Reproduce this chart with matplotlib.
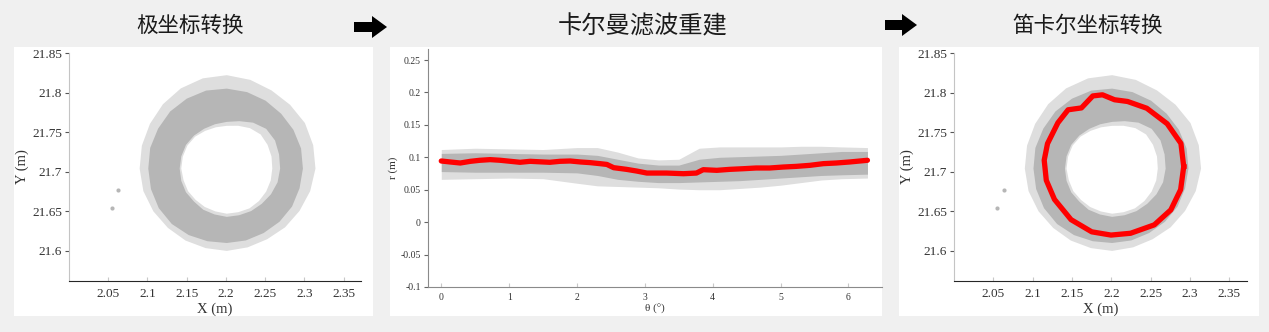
import matplotlib
matplotlib.use("Agg")
import matplotlib.pyplot as plt
import numpy as np
from matplotlib.patches import Rectangle, Polygon
from matplotlib.ticker import FuncFormatter

W, H = 1269, 332

# ---- middle panel: polar data (theta in rad, r in m) ----
theta_red = [0.0, 0.13, 0.28, 0.43, 0.57, 0.72, 0.87, 1.02, 1.16, 1.31, 1.46,
             1.60, 1.75, 1.90, 2.05, 2.19, 2.34, 2.44, 2.54, 2.73, 2.88, 3.03,
             3.17, 3.32, 3.57, 3.76, 3.86, 4.06, 4.25, 4.45, 4.64, 4.84, 5.04,
             5.23, 5.43, 5.63, 5.82, 6.02, 6.28]
r_red = [0.0943, 0.0928, 0.0912, 0.0938, 0.0954, 0.0964, 0.0954, 0.0938,
         0.0923, 0.0938, 0.0930, 0.0923, 0.0938, 0.0943, 0.0928, 0.0918,
         0.0902, 0.0890, 0.0840, 0.0814, 0.0788, 0.0757, 0.0757, 0.0757,
         0.0747, 0.0757, 0.0809, 0.0799, 0.0814, 0.0824, 0.0835, 0.0835,
         0.0850, 0.0860, 0.0876, 0.0902, 0.0912, 0.0928, 0.0954]

theta_band = [0.0, 0.5, 1.0, 1.5, 2.0, 2.3, 2.6, 2.9, 3.2, 3.5, 3.8, 4.1,
              4.4, 4.7, 5.0, 5.3, 5.6, 5.9, 6.28]
band_dense_lo = [0.078, 0.077, 0.077, 0.077, 0.076, 0.072, 0.066, 0.063,
                 0.061, 0.061, 0.062, 0.063, 0.064, 0.066, 0.068, 0.070,
                 0.072, 0.073, 0.074]
band_dense_hi = [0.106, 0.107, 0.106, 0.105, 0.105, 0.103, 0.097, 0.091,
                 0.088, 0.088, 0.097, 0.100, 0.101, 0.102, 0.103, 0.105,
                 0.107, 0.109, 0.109]
band_sparse_lo = [0.066, 0.067, 0.068, 0.067, 0.060, 0.056, 0.055, 0.054,
                  0.053, 0.051, 0.050, 0.050, 0.052, 0.054, 0.057, 0.061,
                  0.065, 0.067, 0.068]
band_sparse_hi = [0.112, 0.114, 0.113, 0.112, 0.115, 0.115, 0.108, 0.099,
                  0.096, 0.097, 0.114, 0.116, 0.116, 0.116, 0.116, 0.117,
                  0.117, 0.116, 0.115]

# ---- left / right panels: ring of points around a centre (m) ----
ring_cx, ring_cy = 2.201, 21.704
ring_angle_deg = [0, 15, 30, 45, 60, 75, 90, 105, 120, 135, 150, 165, 180,
                  195, 210, 225, 240, 255, 270, 285, 300, 315, 330, 345]
ring_dense_in = [0.068, 0.069, 0.071, 0.071, 0.067, 0.062, 0.059, 0.058,
                 0.058, 0.059, 0.060, 0.060, 0.060, 0.060, 0.060, 0.059,
                 0.060, 0.060, 0.061, 0.061, 0.062, 0.063, 0.065, 0.067]
ring_dense_out = [0.097, 0.098, 0.098, 0.098, 0.099, 0.100, 0.101, 0.102,
                  0.102, 0.102, 0.101, 0.101, 0.100, 0.100, 0.100, 0.099,
                  0.097, 0.095, 0.094, 0.094, 0.094, 0.095, 0.096, 0.096]
ring_sparse_in = [0.058, 0.059, 0.060, 0.061, 0.059, 0.056, 0.054, 0.054,
                  0.055, 0.057, 0.058, 0.058, 0.058, 0.057, 0.057, 0.056,
                  0.056, 0.056, 0.057, 0.057, 0.058, 0.058, 0.058, 0.058]
ring_sparse_out = [0.113, 0.114, 0.115, 0.114, 0.114, 0.116, 0.118, 0.118,
                   0.117, 0.115, 0.113, 0.112, 0.111, 0.110, 0.108, 0.106,
                   0.105, 0.104, 0.104, 0.103, 0.103, 0.105, 0.107, 0.110]
outlier_x = [2.0545, 2.063]
outlier_y = [21.6547, 21.677]

# filtered ring (red) in the right panel
red_angle_deg = [1.6, 20, 39, 60, 77, 88, 97.5, 105, 117, 127, 140, 159, 173,
                 190, 208, 231, 252, 269, 286, 307, 325, 343]
red_ring_r = [0.091, 0.093, 0.090, 0.088, 0.087, 0.087, 0.094, 0.095, 0.086,
              0.093, 0.090, 0.088, 0.087, 0.085, 0.083, 0.083, 0.084, 0.084,
              0.085, 0.089, 0.091, 0.091]

titles = ["极坐标转换", "卡尔曼滤波重建", "笛卡尔坐标转换"]

GRAY = "#b6b6b6"
LIGHT = "#dedede"
RED = "#ff0000"

plt.rcParams["font.family"] = ["Liberation Serif", "Noto Sans CJK SC"]


def ring_xy(angles, radii):
    a = np.deg2rad(np.append(angles, angles[0]))
    r = np.append(radii, radii[0])
    return ring_cx + r * np.cos(a), ring_cy + r * np.sin(a)


def box(l, t, r, b):
    # pixel box (from top-left) -> figure fraction rect
    return [l / W, 1 - b / H, (r - l) / W, (b - t) / H]


def fmt(v, p):
    return "%g" % round(v, 4)


fig = plt.figure(figsize=(W / 100, H / 100), dpi=100, facecolor="#f0f0f0")

# white panel backgrounds
for l, t, r, b in [(14, 47, 373, 316), (390, 47, 882, 316), (899, 47, 1259, 316)]:
    x0, y0, w, h = box(l, t, r, b)
    fig.patches.append(Rectangle((x0, y0), w, h, transform=fig.transFigure,
                                 facecolor="white", edgecolor="none", zorder=-5))

# arrows between panels
for x0, x1, yc in [(354, 387, 27), (885, 917, 25)]:
    xh = x1 - 15
    pts = [(x0, yc - 5), (xh, yc - 5), (xh, yc - 11), (x1, yc),
           (xh, yc + 11), (xh, yc + 5), (x0, yc + 5)]
    pts = [(px / W, 1 - py / H) for px, py in pts]
    fig.patches.append(Polygon(pts, closed=True, transform=fig.transFigure,
                               facecolor="black", edgecolor="none"))

# titles
for xc, size, txt in [(190, 15.5, titles[0]), (643, 17.5, titles[1]),
                      (1088, 15.5, titles[2])]:
    fig.text(xc / W, 1 - 26 / H, txt, ha="center", va="center", fontsize=size,
             family=["Noto Sans CJK SC"], color="#1a1a1a")


def style_xy(ax):
    ax.set_xlim(2.0, 2.372)
    ax.set_ylim(21.562, 21.85)
    ax.set_xticks([2.05, 2.1, 2.15, 2.2, 2.25, 2.3, 2.35])
    ax.set_yticks([21.6, 21.65, 21.7, 21.75, 21.8, 21.85])
    ax.xaxis.set_major_formatter(FuncFormatter(fmt))
    ax.yaxis.set_major_formatter(FuncFormatter(fmt))
    for s in ["top", "right"]:
        ax.spines[s].set_visible(False)
    ax.spines["left"].set_color("#c4c4c4")
    ax.spines["bottom"].set_color("#262626")
    ax.tick_params(axis="x", direction="in", length=3, color="#c8c8c8",
                   labelsize=9.5, labelcolor="#333333", pad=5)
    ax.tick_params(axis="y", direction="out", length=3, color="#555555",
                   labelsize=9.5, labelcolor="#333333", pad=2)
    ax.set_xlabel("X (m)", fontsize=10.5, color="#333333", labelpad=2)
    ax.set_ylabel("Y (m)", fontsize=10.5, color="#333333", labelpad=2)

    xs, ys = ring_xy(ring_angle_deg, ring_sparse_out)
    ax.fill(xs, ys, color=LIGHT, lw=0)
    xs, ys = ring_xy(ring_angle_deg, ring_dense_out)
    ax.fill(xs, ys, color=GRAY, lw=0)
    xs, ys = ring_xy(ring_angle_deg, ring_dense_in)
    ax.fill(xs, ys, color=LIGHT, lw=0)
    xs, ys = ring_xy(ring_angle_deg, ring_sparse_in)
    ax.fill(xs, ys, color="white", lw=0)
    ax.scatter(outlier_x, outlier_y, s=9, color=GRAY, lw=0)


# left panel
ax1 = fig.add_axes(box(69, 53, 361, 281))
style_xy(ax1)

# middle panel
ax2 = fig.add_axes(box(427.7, 49, 881.7, 287))
ax2.fill_between(theta_band, band_sparse_lo, band_sparse_hi, color=LIGHT, lw=0)
ax2.fill_between(theta_band, band_dense_lo, band_dense_hi, color=GRAY, lw=0)
ax2.plot(theta_red, r_red, color=RED, lw=3.8, solid_capstyle="round")
ax2.set_xlim(-0.2, 6.49)
ax2.set_ylim(-0.1, 0.267)
ax2.set_xticks(range(7))
ax2.set_yticks([-0.1, -0.05, 0, 0.05, 0.1, 0.15, 0.2, 0.25])
ax2.yaxis.set_major_formatter(FuncFormatter(fmt))
for s in ["top", "right"]:
    ax2.spines[s].set_visible(False)
for s in ["left", "bottom"]:
    ax2.spines[s].set_color("#8a8a8a")
ax2.tick_params(axis="x", direction="in", length=3, color="#c8c8c8",
                labelsize=7, labelcolor="#333333", pad=4)
ax2.tick_params(axis="y", direction="out", length=3, color="#666666",
                labelsize=7, labelcolor="#333333", pad=2)
ax2.set_xlabel("θ (°)", fontsize=8, color="#333333", labelpad=2)
ax2.set_ylabel("r (m)", fontsize=8, color="#333333", labelpad=2)

# right panel
ax3 = fig.add_axes(box(954, 53, 1246.7, 281))
style_xy(ax3)
rx, ry = ring_xy(red_angle_deg, red_ring_r)
ax3.plot(rx, ry, color=RED, lw=3.8, solid_joinstyle="round")

fig.savefig("out.png", dpi=100, facecolor=fig.get_facecolor())
